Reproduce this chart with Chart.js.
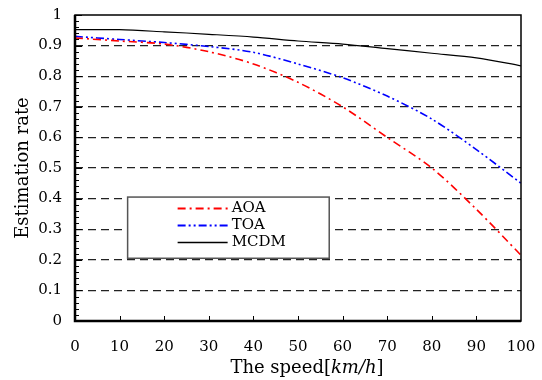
<!doctype html>
<html>
<head>
	<title>Estimation rate vs speed</title>
	<script src="https://cdn.jsdelivr.net/npm/chart.js@4/dist/chart.umd.min.js"></script>
	<style>
	html, body { margin: 0; padding: 0; background: #fff; }
	.chart-container { width: 542px; height: 380px; }
	</style>
</head>
<body>
	<div class="chart-container"><canvas id="chart"></canvas></div>
	<script>
		var speeds = [0, 10, 20, 30, 40, 50, 60, 70, 80, 90, 100];
		var aoa = [0.925, 0.915, 0.905, 0.88, 0.84, 0.78, 0.70, 0.60, 0.50, 0.365, 0.215];
		var toa = [0.93, 0.92, 0.91, 0.897, 0.878, 0.84, 0.795, 0.735, 0.66, 0.56, 0.45];
		var mcdm = [0.952, 0.952, 0.945, 0.937, 0.928, 0.915, 0.905, 0.89, 0.875, 0.86, 0.834];
		var seriesNames = ['AOA', 'TOA', 'MCDM'];

		var FONT = '"DejaVu Serif", serif';

		function pts(ys) {
			return speeds.map(function(x, i) { return {x: x, y: ys[i]}; });
		}

		var series = [
			{label: seriesNames[0], data: pts(aoa), borderColor: '#ff0000', borderDash: [8, 4, 2, 4], borderWidth: 1.6},
			{label: seriesNames[1], data: pts(toa), borderColor: '#0000ff', borderDash: [8, 3, 2, 3, 2, 3], borderWidth: 1.6},
			{label: seriesNames[2], data: pts(mcdm), borderColor: '#000000', borderDash: [], borderWidth: 1.2}
		];

		var decor = {
			id: 'decor',
			afterDraw: function(chart) {
				var ctx = chart.ctx;
				var a = chart.chartArea;
				var xs = chart.scales.x, ys = chart.scales.y;
				ctx.save();
				ctx.strokeStyle = '#000';
				ctx.setLineDash([]);
				// minor / major ticks on left axis
				ctx.lineWidth = 1;
				for (var i = 0; i <= 50; i++) {
					var py = Math.round(ys.getPixelForValue(i * 0.02)) + 0.5;
					var len = (i % 5 === 0) ? 7 : 4;
					ctx.beginPath();
					ctx.moveTo(a.left, py);
					ctx.lineTo(a.left + len, py);
					ctx.stroke();
				}
				// ticks on bottom axis
				for (var s = 10; s < 100; s += 10) {
					var px = Math.round(xs.getPixelForValue(s)) + 0.5;
					ctx.beginPath();
					ctx.moveTo(px, a.bottom);
					ctx.lineTo(px, a.bottom - 5);
					ctx.stroke();
				}
				// frame
				ctx.lineWidth = 1.5;
				ctx.strokeRect(a.left, a.top, a.right - a.left, a.bottom - a.top);
				ctx.lineWidth = 2.5;
				ctx.beginPath();
				ctx.moveTo(a.left, a.top);
				ctx.lineTo(a.left, a.bottom);
				ctx.lineTo(a.right, a.bottom);
				ctx.stroke();

				// legend box
				var bx0 = xs.getPixelForValue(11.8), bx1 = xs.getPixelForValue(57);
				var by0 = ys.getPixelForValue(0.405), by1 = ys.getPixelForValue(0.205);
				ctx.fillStyle = '#fff';
				ctx.fillRect(bx0, by0, bx1 - bx0, by1 - by0);
				ctx.lineWidth = 1.5;
				ctx.strokeStyle = '#555';
				ctx.strokeRect(bx0, by0, bx1 - bx0, by1 - by0);
				ctx.font = '15px ' + FONT;
				ctx.textBaseline = 'middle';
				ctx.textAlign = 'left';
				series.forEach(function(d, k) {
					var ly = by0 + 11.5 + k * 17;
					ctx.strokeStyle = d.borderColor;
					ctx.lineWidth = d.borderWidth + 0.4;
					ctx.setLineDash(d.borderDash);
					ctx.beginPath();
					ctx.moveTo(bx0 + 50, ly);
					ctx.lineTo(bx0 + 100, ly);
					ctx.stroke();
					ctx.setLineDash([]);
					ctx.fillStyle = '#000';
					ctx.fillText(d.label, bx0 + 104, ly);
				});

				// axis titles
				ctx.fillStyle = '#000';
				ctx.textAlign = 'left';
				ctx.textBaseline = 'middle';
				var t1 = 'The speed[', t2 = 'km/h', t3 = ']';
				ctx.font = '18px ' + FONT;
				var w1 = ctx.measureText(t1).width, w3 = ctx.measureText(t3).width;
				ctx.font = 'italic 18px ' + FONT;
				var w2 = ctx.measureText(t2).width;
				var tx = 307 - (w1 + w2 + w3) / 2;
				var ty = 368;
				ctx.font = '18px ' + FONT;
				ctx.fillText(t1, tx, ty);
				ctx.font = 'italic 18px ' + FONT;
				ctx.fillText(t2, tx + w1, ty);
				ctx.font = '18px ' + FONT;
				ctx.fillText(t3, tx + w1 + w2, ty);

				ctx.translate(23, (a.top + a.bottom) / 2);
				ctx.rotate(-Math.PI / 2);
				ctx.textAlign = 'center';
				ctx.font = '18px ' + FONT;
				ctx.fillText('Estimation rate', 0, 0);
				ctx.restore();
			}
		};

		window.onload = function() {
			var ctx = document.getElementById('chart').getContext('2d');
			new Chart(ctx, {
				type: 'line',
				data: {
					datasets: series.map(function(d) {
						return {
							label: d.label,
							data: d.data,
							borderColor: d.borderColor,
							borderDash: d.borderDash,
							borderWidth: d.borderWidth,
							pointRadius: 0,
							fill: false,
							tension: 0.3
						};
					})
				},
				options: {
					responsive: true,
					maintainAspectRatio: false,
					animation: false,
					layout: {padding: {top: 15, right: 21, left: 0, bottom: 0}},
					plugins: {legend: {display: false}, tooltip: {enabled: false}},
					scales: {
						x: {
							type: 'linear', min: 0, max: 100,
							border: {display: false},
							grid: {display: false, drawTicks: false},
							ticks: {stepSize: 10, padding: 17, color: '#000', font: {family: FONT, size: 15}, maxRotation: 0},
							afterFit: function(scale) {
								scale.height = 59;
								scale.paddingLeft = 0;
								scale.paddingRight = 0;
							}
						},
						y: {
							min: 0, max: 1,
							border: {display: false, dash: [8, 5]},
							grid: {
								drawTicks: false,
								color: function(c) { return (c.tick.value > 0.001 && c.tick.value < 0.999) ? '#222' : 'rgba(0,0,0,0)'; },
								lineWidth: 1.2
							},
							ticks: {
								stepSize: 0.1, padding: 13, color: '#000', font: {family: FONT, size: 15},
								callback: function(v) { return String(+v.toFixed(2)); }
							},
							afterFit: function(scale) {
								scale.width = 75;
								scale.paddingTop = 0;
								scale.paddingBottom = 0;
							}
						}
					}
				},
				plugins: [decor]
			});
		};
	</script>
</body>
</html>
